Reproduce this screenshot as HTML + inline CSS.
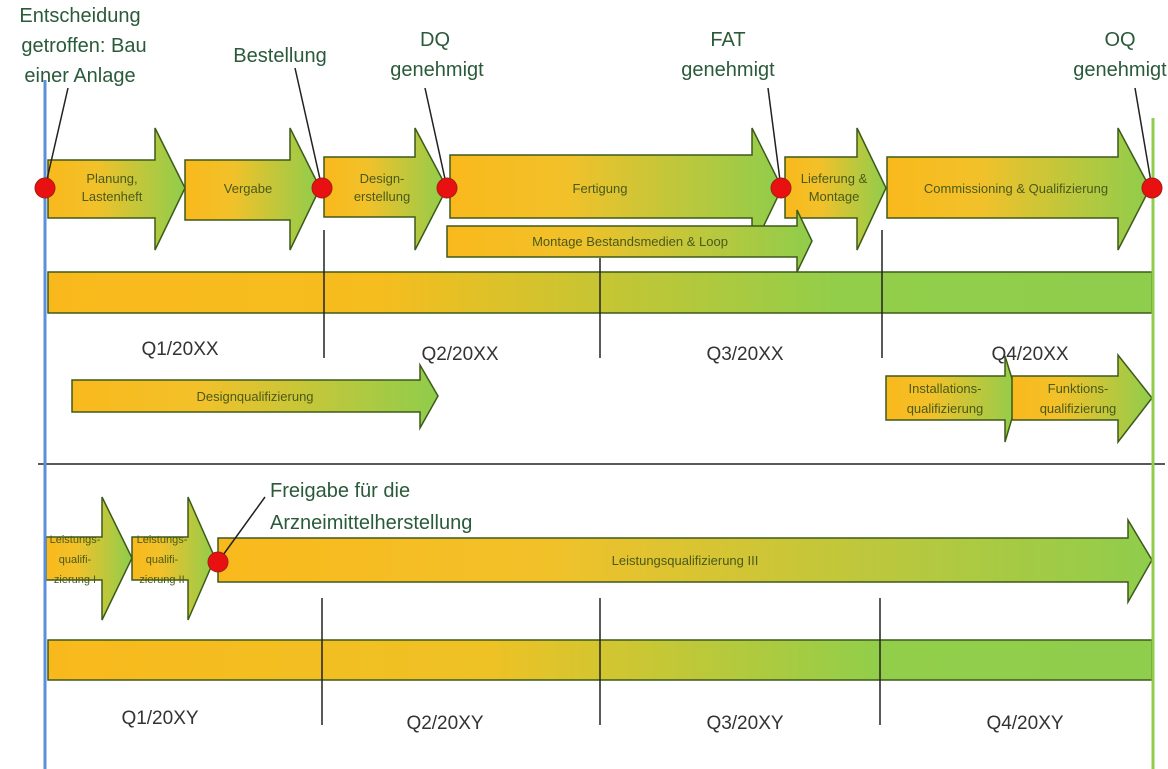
<!DOCTYPE html>
<html><head><meta charset="utf-8"><style>
html,body{margin:0;padding:0;background:#fff;}
svg{display:block;font-family:"Liberation Sans",sans-serif;}
.t{fill:#4a5a1a;font-size:13px;text-anchor:middle;}
.q{fill:#333;font-size:19px;text-anchor:middle;}
.lb{fill:#2a5a3a;font-size:20px;text-anchor:middle;}
</style></head><body>
<svg width="1168" height="769" viewBox="0 0 1168 769">
<defs>
<linearGradient id="g" x1="0" x2="1" y1="0" y2="0"><stop offset="0" stop-color="#f9b91c"/><stop offset="0.35" stop-color="#f2c12a"/><stop offset="1" stop-color="#8fcd4c"/></linearGradient>
<linearGradient id="gb" gradientUnits="userSpaceOnUse" x1="48" x2="1152" y1="0" y2="0"><stop offset="0" stop-color="#f9b91c"/><stop offset="0.3" stop-color="#f6bd1e"/><stop offset="0.72" stop-color="#92ce4a"/><stop offset="1" stop-color="#8fcd4c"/></linearGradient>
<linearGradient id="gb2" gradientUnits="userSpaceOnUse" x1="48" x2="1152" y1="0" y2="0"><stop offset="0" stop-color="#f9b91c"/><stop offset="0.4" stop-color="#eec225"/><stop offset="0.75" stop-color="#92ce4a"/><stop offset="1" stop-color="#8fcd4c"/></linearGradient>
</defs>
<g stroke="#3d5a1a" stroke-width="1.5" fill="url(#g)">
<polygon points="48,160 155,160 155,128 185,188 155,250 155,218 48,218"/>
<polygon points="185,160 290,160 290,128 320,188 290,250 290,220 185,220"/>
<polygon points="324,157 415,157 415,128 447,188 415,250 415,217 324,217"/>
<polygon points="450,155 752,155 752,128 782,188 752,250 752,218 450,218"/>
<polygon points="785,157 857,157 857,128 886,188 857,250 857,218 785,218"/>
<polygon points="887,157 1118,157 1118,128 1150,188 1118,250 1118,218 887,218"/>
<polygon points="447,226 797,226 797,210 812,241 797,272 797,257 447,257"/>
<polygon points="72,380 420,380 420,365 438,396 420,428 420,412 72,412"/>
<polygon points="886,376 1005,376 1005,356 1018,398 1005,442 1005,420 886,420"/>
<polygon points="1012,376 1118,376 1118,355 1152,398 1118,442 1118,420 1012,420"/>
<polygon points="46,537 102,537 102,497 132,558 102,620 102,580 46,580"/>
<polygon points="132,537 188,537 188,497 215,558 188,620 188,580 132,580"/>
<polygon points="218,538 1128,538 1128,520 1152,560 1128,602 1128,582 218,582"/>
</g>
<rect x="48" y="272" width="1104" height="41" fill="url(#gb)" stroke="#3d5a1a" stroke-width="1.5"/>
<rect x="48" y="640" width="1104" height="40" fill="url(#gb2)" stroke="#3d5a1a" stroke-width="1.5"/>
<g stroke="#222" stroke-width="1.5">
<line x1="324" y1="230" x2="324" y2="358"/><line x1="600" y1="258" x2="600" y2="358"/><line x1="882" y1="230" x2="882" y2="358"/>
<line x1="322" y1="598" x2="322" y2="725"/><line x1="600" y1="598" x2="600" y2="725"/><line x1="880" y1="598" x2="880" y2="725"/>
<line x1="38" y1="464" x2="1165" y2="464"/>
<line x1="68" y1="88" x2="45" y2="188"/><line x1="295" y1="68" x2="322" y2="188"/><line x1="425" y1="88" x2="447" y2="188"/><line x1="768" y1="88" x2="781" y2="188"/><line x1="1135" y1="88" x2="1152" y2="188"/><line x1="265" y1="497" x2="218" y2="562"/>
</g>
<line x1="45" y1="80" x2="45" y2="769" stroke="#5b8fd9" stroke-width="3"/>
<line x1="1153" y1="118" x2="1153" y2="769" stroke="#8fcd4c" stroke-width="3"/>
<g fill="#e81010" stroke="#a02010" stroke-width="1">
<circle cx="45" cy="188" r="10"/><circle cx="322" cy="188" r="10"/><circle cx="447" cy="188" r="10"/><circle cx="781" cy="188" r="10"/><circle cx="1152" cy="188" r="10"/><circle cx="218" cy="562" r="10"/>
</g>
<text class="t" x="112" y="183">Planung,</text><text class="t" x="112" y="201">Lastenheft</text>
<text class="t" x="248" y="193">Vergabe</text>
<text class="t" x="382" y="183">Design-</text><text class="t" x="382" y="201">erstellung</text>
<text class="t" x="600" y="193">Fertigung</text>
<text class="t" x="834" y="183">Lieferung &amp;</text><text class="t" x="834" y="201">Montage</text>
<text class="t" x="1016" y="193">Commissioning &amp; Qualifizierung</text>
<text class="t" x="630" y="246">Montage Bestandsmedien &amp; Loop</text>
<text class="t" x="255" y="401">Designqualifizierung</text>
<text class="t" x="945" y="393">Installations-</text><text class="t" x="945" y="413">qualifizierung</text>
<text class="t" x="1078" y="393">Funktions-</text><text class="t" x="1078" y="413">qualifizierung</text>
<text class="t" x="75" y="543" style="font-size:11px">Leistungs-</text><text class="t" x="75" y="563" style="font-size:11px">qualifi-</text><text class="t" x="75" y="583" style="font-size:11px">zierung I</text>
<text class="t" x="162" y="543" style="font-size:11px">Leistungs-</text><text class="t" x="162" y="563" style="font-size:11px">qualifi-</text><text class="t" x="162" y="583" style="font-size:11px">zierung II</text>
<text class="t" x="685" y="565">Leistungsqualifizierung III</text>
<text class="q" x="180" y="355">Q1/20XX</text><text class="q" x="460" y="360">Q2/20XX</text><text class="q" x="745" y="360">Q3/20XX</text><text class="q" x="1030" y="360">Q4/20XX</text>
<text class="q" x="160" y="724">Q1/20XY</text><text class="q" x="445" y="729">Q2/20XY</text><text class="q" x="745" y="729">Q3/20XY</text><text class="q" x="1025" y="729">Q4/20XY</text>
<text class="lb" x="80" y="22">Entscheidung</text><text class="lb" x="84" y="52">getroffen: Bau</text><text class="lb" x="80" y="82">einer Anlage</text>
<text class="lb" x="280" y="62">Bestellung</text>
<text class="lb" x="435" y="46">DQ</text><text class="lb" x="437" y="76">genehmigt</text>
<text class="lb" x="728" y="46">FAT</text><text class="lb" x="728" y="76">genehmigt</text>
<text class="lb" x="1120" y="46">OQ</text><text class="lb" x="1120" y="76">genehmigt</text>
<text class="lb" x="270" y="497" style="text-anchor:start">Freigabe für die</text><text class="lb" x="270" y="529" style="text-anchor:start">Arzneimittelherstellung</text>
</svg>
</body></html>
